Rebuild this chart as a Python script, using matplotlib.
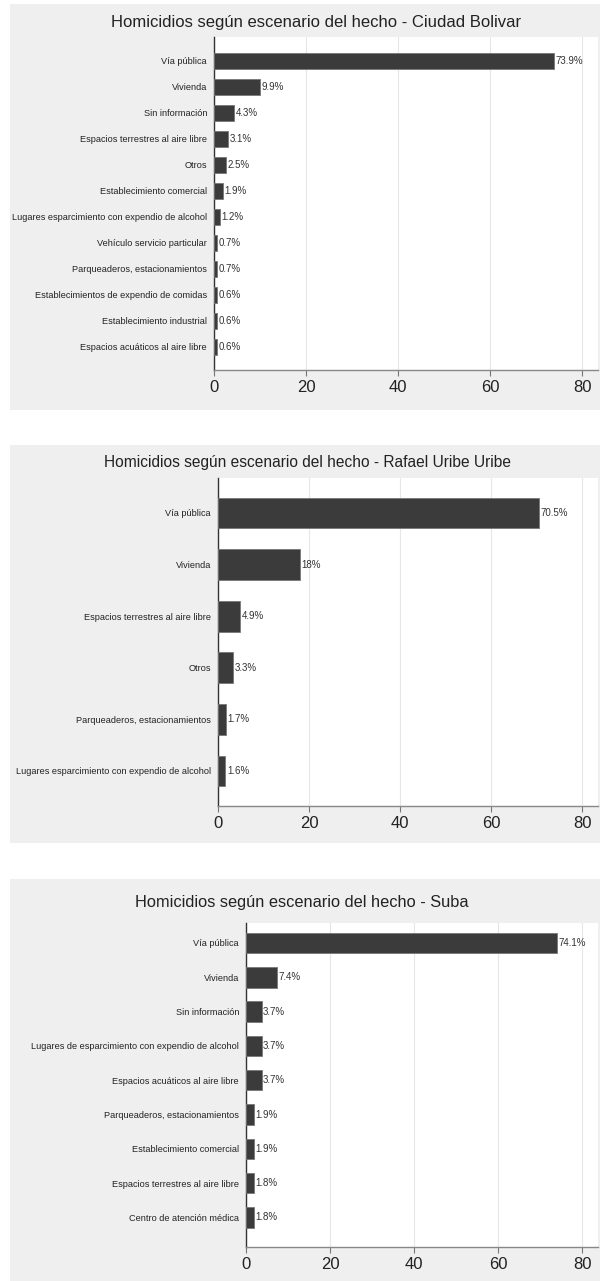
import numpy as np
import matplotlib
matplotlib.use("Agg")
import matplotlib.pyplot as plt
from matplotlib.patches import Rectangle

plt.rcParams['font.family'] = ['Liberation Sans', 'DejaVu Sans']

# Ciudad Bolivar
cb_labels = ["Vía pública", "Vivienda", "Sin información",
             "Espacios terrestres al aire libre", "Otros",
             "Establecimiento comercial",
             "Lugares esparcimiento con expendio de alcohol",
             "Vehículo servicio particular", "Parqueaderos, estacionamientos",
             "Establecimientos de expendio de comidas",
             "Establecimiento industrial", "Espacios acuáticos al aire libre"]
cb_values = [73.9, 9.9, 4.3, 3.1, 2.5, 1.9, 1.2, 0.7, 0.7, 0.6, 0.6, 0.6]

# Rafael Uribe Uribe
ru_labels = ["Vía pública", "Vivienda", "Espacios terrestres al aire libre",
             "Otros", "Parqueaderos, estacionamientos",
             "Lugares esparcimiento con expendio de alcohol"]
ru_values = [70.5, 18, 4.9, 3.3, 1.7, 1.6]

# Suba
su_labels = ["Vía pública", "Vivienda", "Sin información",
             "Lugares de esparcimiento con expendio de alcohol",
             "Espacios acuáticos al aire libre", "Parqueaderos, estacionamientos",
             "Establecimiento comercial", "Espacios terrestres al aire libre",
             "Centro de atención médica"]
su_values = [74.1, 7.4, 3.7, 3.7, 3.7, 1.9, 1.9, 1.8, 1.8]

titles = ["Homicidios según escenario del hecho - Ciudad Bolivar",
          "Homicidios según escenario del hecho - Rafael Uribe Uribe",
          "Homicidios según escenario del hecho - Suba"]
x_ticks = [0, 20, 40, 60, 80]

W, H = 600, 1281
fig = plt.figure(figsize=(W / 100, H / 100), dpi=100)
fig.patch.set_facecolor("white")


def px(left, top, right, bottom):
    return [left / W, 1 - bottom / H, (right - left) / W, (bottom - top) / H]


# panel: (bg top, bg bottom, title x, title y, title size, axes left, axes top, axes bottom, first bar y, bar step)
panels = [
    (4, 410, 316, 22, 12.0, 214, 37, 370, 61, 26.0),
    (445, 843, 307, 462, 11.2, 218, 478, 806, 513, 51.6),
    (879, 1281, 302, 902, 11.8, 246, 923, 1247, 943, 34.3),
]
data = [(cb_labels, cb_values), (ru_labels, ru_values), (su_labels, su_values)]

for (bg_top, bg_bot, tx, ty, tsize, ax_l, ax_t, ax_b, y0, step), (labels, values), title in zip(panels, data, titles):
    fig.patches.append(Rectangle((10 / W, 1 - bg_bot / H), (W - 10) / W, (bg_bot - bg_top) / H,
                                 transform=fig.transFigure, facecolor="#efefef",
                                 edgecolor="none", zorder=-10))
    fig.text(tx / W, 1 - ty / H, title, ha="center", va="center", fontsize=tsize, color="#222222")

    ax = fig.add_axes(px(ax_l, ax_t, 598, ax_b))
    ax.set_facecolor("white")
    n = len(labels)
    pos = np.arange(n)
    ax.barh(pos, values, height=0.6, color="#3b3b3b", edgecolor="#777777", linewidth=0.6, zorder=3)
    for p, v in zip(pos, values):
        ax.text(v + 0.35, p, f"{v:g}%", va="center", ha="left", fontsize=7.0, color="#333333", zorder=4)

    ax.set_yticks(pos)
    ax.set_yticklabels(labels, fontsize=6.6, color="#222222")
    ax.tick_params(axis="y", length=0, pad=5)
    top_lim = -(y0 - ax_t) / step
    bot_lim = (n - 1) + (ax_b - (y0 + (n - 1) * step)) / step
    ax.set_ylim(bot_lim, top_lim)

    x_per_unit = (582 - ax_l) / 80
    ax.set_xlim(0, (598 - ax_l) / x_per_unit)
    ax.set_xticks(x_ticks)
    ax.tick_params(axis="x", labelsize=12, colors="#222222", length=4, width=0.8,
                   color="#777777", pad=3)
    ax.grid(axis="x", color="#e6e6e6", linewidth=0.8, zorder=0)
    ax.set_axisbelow(True)

    for s in ["top", "right"]:
        ax.spines[s].set_visible(False)
    ax.spines["left"].set_color("#333333")
    ax.spines["left"].set_linewidth(1.0)
    ax.spines["bottom"].set_color("#888888")
    ax.spines["bottom"].set_linewidth(1.0)

fig.savefig("out.png", dpi=100, facecolor=fig.get_facecolor())
